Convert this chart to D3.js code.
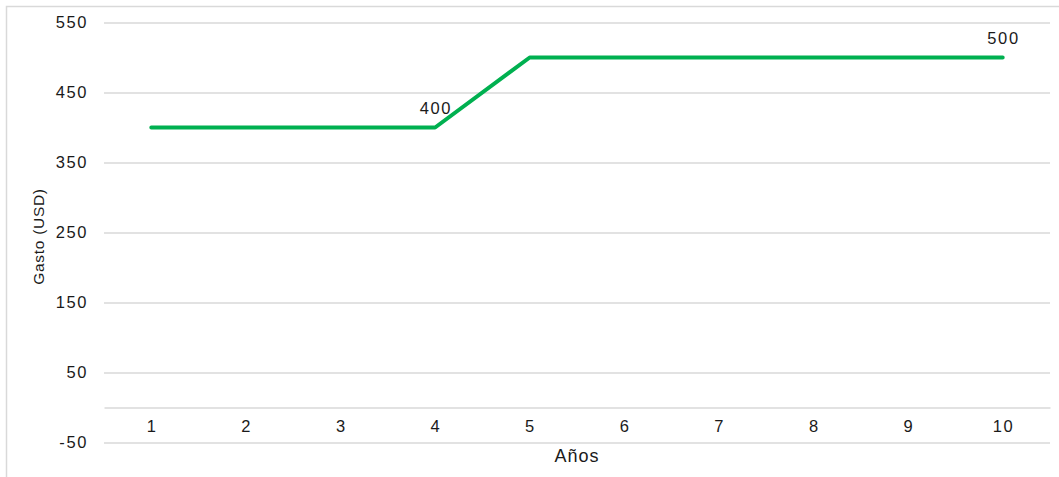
<!DOCTYPE html>
<html>
<head>
<meta charset="utf-8">
<script src="https://cdn.jsdelivr.net/npm/d3@7"></script>
<style>
  html, body { margin: 0; padding: 0; background: #fff; }
  svg { display: block; font-family: "Liberation Sans", Arial, sans-serif; }
</style>
</head>
<body>
<svg id="chart" width="1059" height="477"></svg>
<script>
// Yearly spending series
const years = ["1", "2", "3", "4", "5", "6", "7", "8", "9", "10"];
const gasto = [400, 400, 400, 400, 500, 500, 500, 500, 500, 500];
const labeledYears = ["4", "10"];
const yTicks = [-50, 50, 150, 250, 350, 450, 550];

const svg = d3.select("#chart");
const W = 1059, H = 477;
const plot = { left: 104, right: 1050, top: 22.5, bottom: 442.5 };
const FONT = "Liberation Sans, Arial, sans-serif";
const LS = 1.6; // letter spacing for numeric labels

// Chart frame (left and top edges visible)
svg.append("path")
  .attr("d", `M6.5,${H} V6.5 H${W}`)
  .attr("fill", "none")
  .attr("stroke", "#d9d9d9")
  .attr("stroke-width", 1.5);

const x = d3.scaleBand().domain(years).range([plot.left, plot.right]).padding(0);
const y = d3.scaleLinear().domain([-50, 550]).range([plot.bottom, plot.top]);

// Horizontal gridlines with value labels (plain hyphen for negatives)
const yAxis = d3.axisLeft(y)
  .tickValues(yTicks)
  .tickFormat(d => String(d))
  .tickSize(-(plot.right - plot.left))
  .tickPadding(16);
const gy = svg.append("g").attr("transform", `translate(${plot.left},0)`).call(yAxis);
gy.select(".domain").remove();
gy.selectAll(".tick line").attr("stroke", "#d9d9d9").attr("stroke-width", 1.3);
gy.selectAll(".tick text").attr("font-size", 16.5).attr("fill", "#1a1a1a")
  .attr("font-family", FONT).attr("letter-spacing", LS);

// Category axis crossing at zero
const xAxis = d3.axisBottom(x).tickSize(0).tickPadding(13);
const gx = svg.append("g").attr("transform", `translate(0,${y(0)})`).call(xAxis);
gx.select(".domain").attr("stroke", "#d9d9d9").attr("stroke-width", 1.3);
gx.selectAll(".tick text").attr("font-size", 16.5).attr("fill", "#1a1a1a")
  .attr("font-family", FONT).attr("letter-spacing", LS).attr("dx", LS / 2);

// Spending line
const line = d3.line()
  .x((d, i) => x(years[i]) + x.bandwidth() / 2)
  .y(d => y(d));
svg.append("path")
  .datum(gasto)
  .attr("d", line)
  .attr("fill", "none")
  .attr("stroke", "#00b050")
  .attr("stroke-width", 4)
  .attr("stroke-linejoin", "round")
  .attr("stroke-linecap", "round");

// Value labels
svg.append("g").selectAll("text")
  .data(labeledYears)
  .join("text")
  .attr("x", d => x(d) + x.bandwidth() / 2)
  .attr("y", d => y(gasto[years.indexOf(d)]) - 14)
  .attr("dx", LS / 2)
  .attr("text-anchor", "middle")
  .attr("font-size", 16.5)
  .attr("letter-spacing", LS)
  .attr("fill", "#1a1a1a")
  .text(d => gasto[years.indexOf(d)]);

// Axis titles
svg.append("text")
  .attr("transform", `translate(44,${(plot.top + plot.bottom) / 2 + 4}) rotate(-90)`)
  .attr("text-anchor", "middle")
  .attr("font-size", 15.5)
  .attr("letter-spacing", 0.7)
  .attr("fill", "#1a1a1a")
  .text("Gasto (USD)");

svg.append("text")
  .attr("x", (plot.left + plot.right) / 2)
  .attr("y", 462)
  .attr("text-anchor", "middle")
  .attr("font-size", 18)
  .attr("letter-spacing", 1)
  .attr("fill", "#1a1a1a")
  .text("Años");
</script>
</body>
</html>
